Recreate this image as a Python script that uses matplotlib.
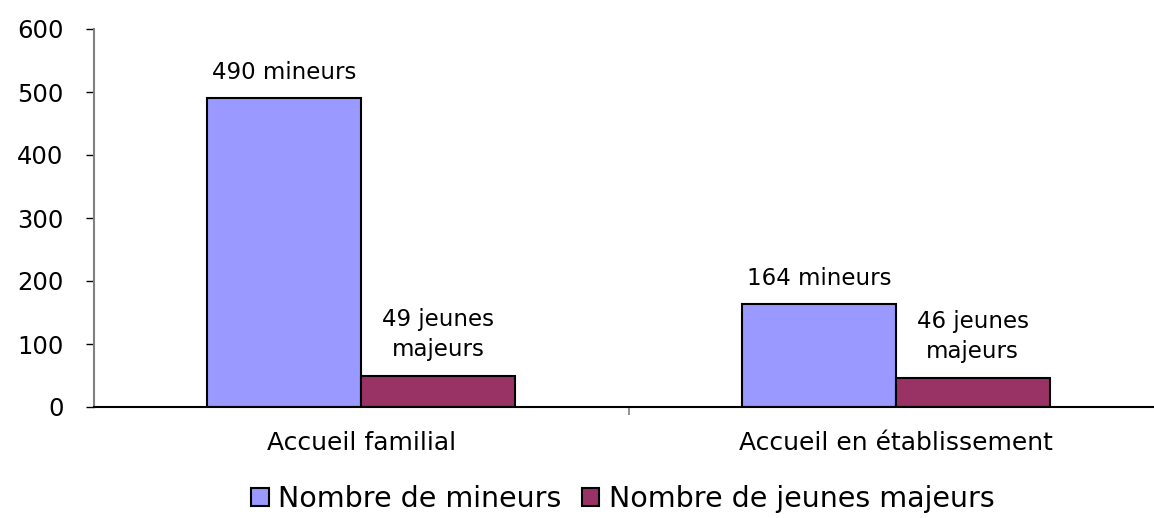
import numpy as np
import matplotlib
matplotlib.use('Agg')
import matplotlib.pyplot as plt

categories = ['Accueil familial', 'Accueil en établissement']
mineurs = [490, 164]
jeunes_majeurs = [49, 46]
labels_mineurs = ['490 mineurs', '164 mineurs']
labels_majeurs = ['49 jeunes\nmajeurs', '46 jeunes\nmajeurs']
series_names = ['Nombre de mineurs', 'Nombre de jeunes majeurs']

plt.rcParams['font.family'] = ['DejaVu Sans']

fig = plt.figure(figsize=(11.54, 5.18), dpi=100)
ax = fig.add_axes([94 / 1154, 111 / 518, (1163 - 94) / 1154, 378 / 518])

x = np.arange(len(categories))
w = 0.288
b1 = ax.bar(x - w / 2, mineurs, w, color='#9999FF', edgecolor='black', linewidth=1.5,
            label=series_names[0])
b2 = ax.bar(x + w / 2, jeunes_majeurs, w, color='#993366', edgecolor='black', linewidth=1.5,
            label=series_names[1])

# etiquettes au dessus des barres
for i in range(len(categories)):
    ax.text(x[i] - w / 2, mineurs[i] + 22, labels_mineurs[i], ha='center', va='bottom', fontsize=16.5)
    ax.text(x[i] + w / 2, jeunes_majeurs[i] + 24, labels_majeurs[i], ha='center', va='bottom',
            fontsize=16.5, linespacing=1.4)

ax.set_xlim(-0.5, 1.5)
ax.set_ylim(0, 600)
ax.set_yticks(np.arange(0, 601, 100))
ax.set_xticks(x)
ax.set_xticklabels(categories)
ax.set_xticks([0.5], minor=True)
ax.tick_params(axis='x', which='major', length=0, pad=17, labelsize=18)
ax.tick_params(axis='x', which='minor', length=6, color='#808080', width=1.2)
ax.tick_params(axis='y', length=6, width=1, pad=16, labelsize=17.5)

for s in ['top', 'right']:
    ax.spines[s].set_visible(False)
ax.spines['left'].set_color('#808080')
ax.spines['left'].set_linewidth(1.5)
ax.spines['bottom'].set_linewidth(1.5)

fig.legend(handles=[b1, b2], loc='center', bbox_to_anchor=(623 / 1154, 1 - 499 / 518), ncol=2,
           frameon=False, fontsize=20.5, handlelength=0.6, handleheight=0.6, handletextpad=0.35,
           columnspacing=0.7, borderpad=0, borderaxespad=0)

fig.savefig('out.png', dpi=100)
